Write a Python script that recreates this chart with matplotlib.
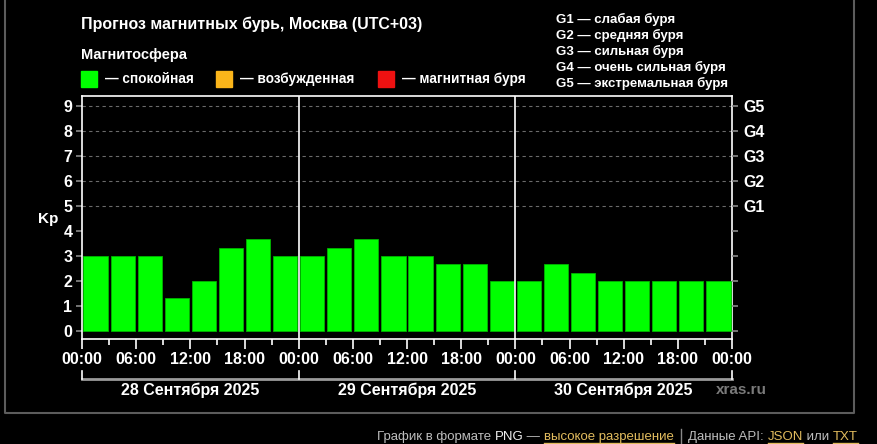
import numpy as np
import matplotlib
matplotlib.use("Agg")
import matplotlib.pyplot as plt
from matplotlib.lines import Line2D
from matplotlib import transforms

# Kp forecast, 3-hour steps, 3 days
kp = [3, 3, 3, 1.33, 2, 3.33, 3.67, 3,
      3, 3.33, 3.67, 3, 3, 2.67, 2.67, 2,
      2, 2.67, 2.33, 2, 2, 2, 2, 2]
hour_labels = ["00:00", "06:00", "12:00", "18:00"] * 3 + ["00:00"]
day_labels = ["28 Сентября 2025", "29 Сентября 2025", "30 Сентября 2025"]
g_labels = ["G1", "G2", "G3", "G4", "G5"]
g_legend = ["G1 — слабая буря", "G2 — средняя буря", "G3 — сильная буря",
            "G4 — очень сильная буря", "G5 — экстремальная буря"]
state_names = ["— спокойная", "— возбужденная", "— магнитная буря"]
state_colors = ["#00ff00", "#fbb51a", "#ee1111"]

W, H = 878, 444
plt.rcParams['font.family'] = ['Liberation Sans', 'DejaVu Sans']

fig = plt.figure(figsize=(W / 100, H / 100), dpi=100, facecolor="black")


def fx(px):
    return px / W


def fy(py):
    return 1 - py / H


ax = fig.add_axes([fx(82), fy(339), (732 - 82) / W, (339 - 96) / H])
ax.set_facecolor("black")

x = np.arange(len(kp)) + 0.5
ax.bar(x, kp, width=0.89, color=state_colors[0], edgecolor="#00b400",
       linewidth=0.6, zorder=3)

ax.set_xlim(0, len(kp))
ax.set_ylim(-0.33, 9.39)

for s in ax.spines.values():
    s.set_color("white")
    s.set_linewidth(1.2)

# dashed grid only in storm range
for g in range(5, 10):
    ax.axhline(g, color="#6a6a6a", lw=0.8, ls=(0, (3, 3)), zorder=1)

# day separators
for d in (8, 16):
    ax.axvline(d, color="white", lw=1.2, zorder=4)

ax.set_xticks(np.arange(0, 25, 2))
ax.set_xticks(np.arange(0, 25, 1), minor=True)
ax.set_xticklabels(hour_labels)
ax.tick_params(axis="x", which="major", colors="white", length=7, width=1.2,
               labelsize=11.5, pad=2)
ax.tick_params(axis="x", which="minor", colors="white", length=4, width=1.2)
for t in ax.get_xticklabels():
    t.set_fontweight("bold")

ax.set_yticks(range(10))
ax.tick_params(axis="y", colors="#888888", length=4, width=1.2,
               labelcolor="white", labelsize=11.5, pad=3)
for t in ax.get_yticklabels():
    t.set_fontweight("bold")

ax2 = ax.twinx()
ax2.set_ylim(ax.get_ylim())
ax2.set_yticks(range(10))
ax2.set_yticklabels([""] * 5 + g_labels)
ax2.tick_params(axis="y", colors="#888888", length=4, width=1.2,
                labelcolor="white", labelsize=11.5, pad=4)
for t in ax2.get_yticklabels():
    t.set_fontweight("bold")
for s in ax2.spines.values():
    s.set_visible(False)

fig.text(fx(48), fy(219), "Kp", color="white", fontsize=11, fontweight="bold",
         ha="center", va="center")

# day brackets under the time axis
bt = transforms.blended_transform_factory(ax.transData, fig.transFigure)
ax.add_line(Line2D([0, 24], [fy(379), fy(379)], transform=bt, color="#9a9a9a",
                   lw=2, clip_on=False))
for d in (0, 8, 16, 24):
    ax.add_line(Line2D([d, d], [fy(379), fy(371)], transform=bt, color="white",
                       lw=1.2, clip_on=False))
for i, lab in enumerate(day_labels):
    ax.text(i * 8 + 4, fy(390), lab, transform=bt, color="white", fontsize=11.5,
            fontweight="bold", ha="center", va="center")
fig.text(fx(741), fy(390), "xras.ru", color="#7a7a7a", fontsize=11,
         fontweight="bold", ha="center", va="center")

# header
fig.text(fx(81), fy(24), "Прогноз магнитных бурь, Москва (UTC+03)",
         color="white", fontsize=11.5, fontweight="bold", va="center")
fig.text(fx(81), fy(55), "Магнитосфера", color="white", fontsize=10.5,
         fontweight="bold", va="center")
sq_x = [81, 216, 378]
for sx, c, name in zip(sq_x, state_colors, state_names):
    fig.patches.append(plt.Rectangle((fx(sx), fy(87)), 16 / W, 16 / H,
                                     transform=fig.transFigure, color=c))
    fig.text(fx(sx + 24), fy(79), name, color="white", fontsize=9.8,
             fontweight="bold", va="center")
for i, g in enumerate(g_legend):
    fig.text(fx(556), fy(19 + 16 * i), g, color="white", fontsize=9.5,
             fontweight="bold", va="center")

# frame around chart
fc = "#5c5c5c"
fig.lines.append(Line2D([fx(5), fx(5), fx(854), fx(854)],
                        [1, fy(413), fy(413), 1], transform=fig.transFigure,
                        color=fc, lw=1.5))

# footer links
fig.canvas.draw()
renderer = fig.canvas.get_renderer()
parts = [("График в формате ", "#bdbdbd", False),
         ("PNG", "#f0f0f0", False),
         (" — ", "#bdbdbd", False),
         ("высокое разрешение", "#e2bc5e", True),
         ("    ", "#bdbdbd", False),
         ("Данные API: ", "#bdbdbd", False),
         ("JSON", "#e2bc5e", True),
         (" или ", "#bdbdbd", False),
         ("TXT", "#e2bc5e", True)]
cur = 377
sep_x = None
for txt, col, link in parts:
    t = fig.text(fx(cur), fy(437), txt, color=col, fontsize=9.5, va="center")
    bb = t.get_window_extent(renderer)
    w = bb.width
    if link:
        fig.lines.append(Line2D([fx(cur), fx(cur + w)], [fy(442.5), fy(442.5)],
                                transform=fig.transFigure, color=col, lw=1))
    if txt.strip() == "":
        sep_x = cur + w / 2
    cur += w
fig.lines.append(Line2D([fx(sep_x), fx(sep_x)], [fy(429), fy(444)],
                        transform=fig.transFigure, color="#888888", lw=1))

fig.savefig("out.png", dpi=100, facecolor="black")
